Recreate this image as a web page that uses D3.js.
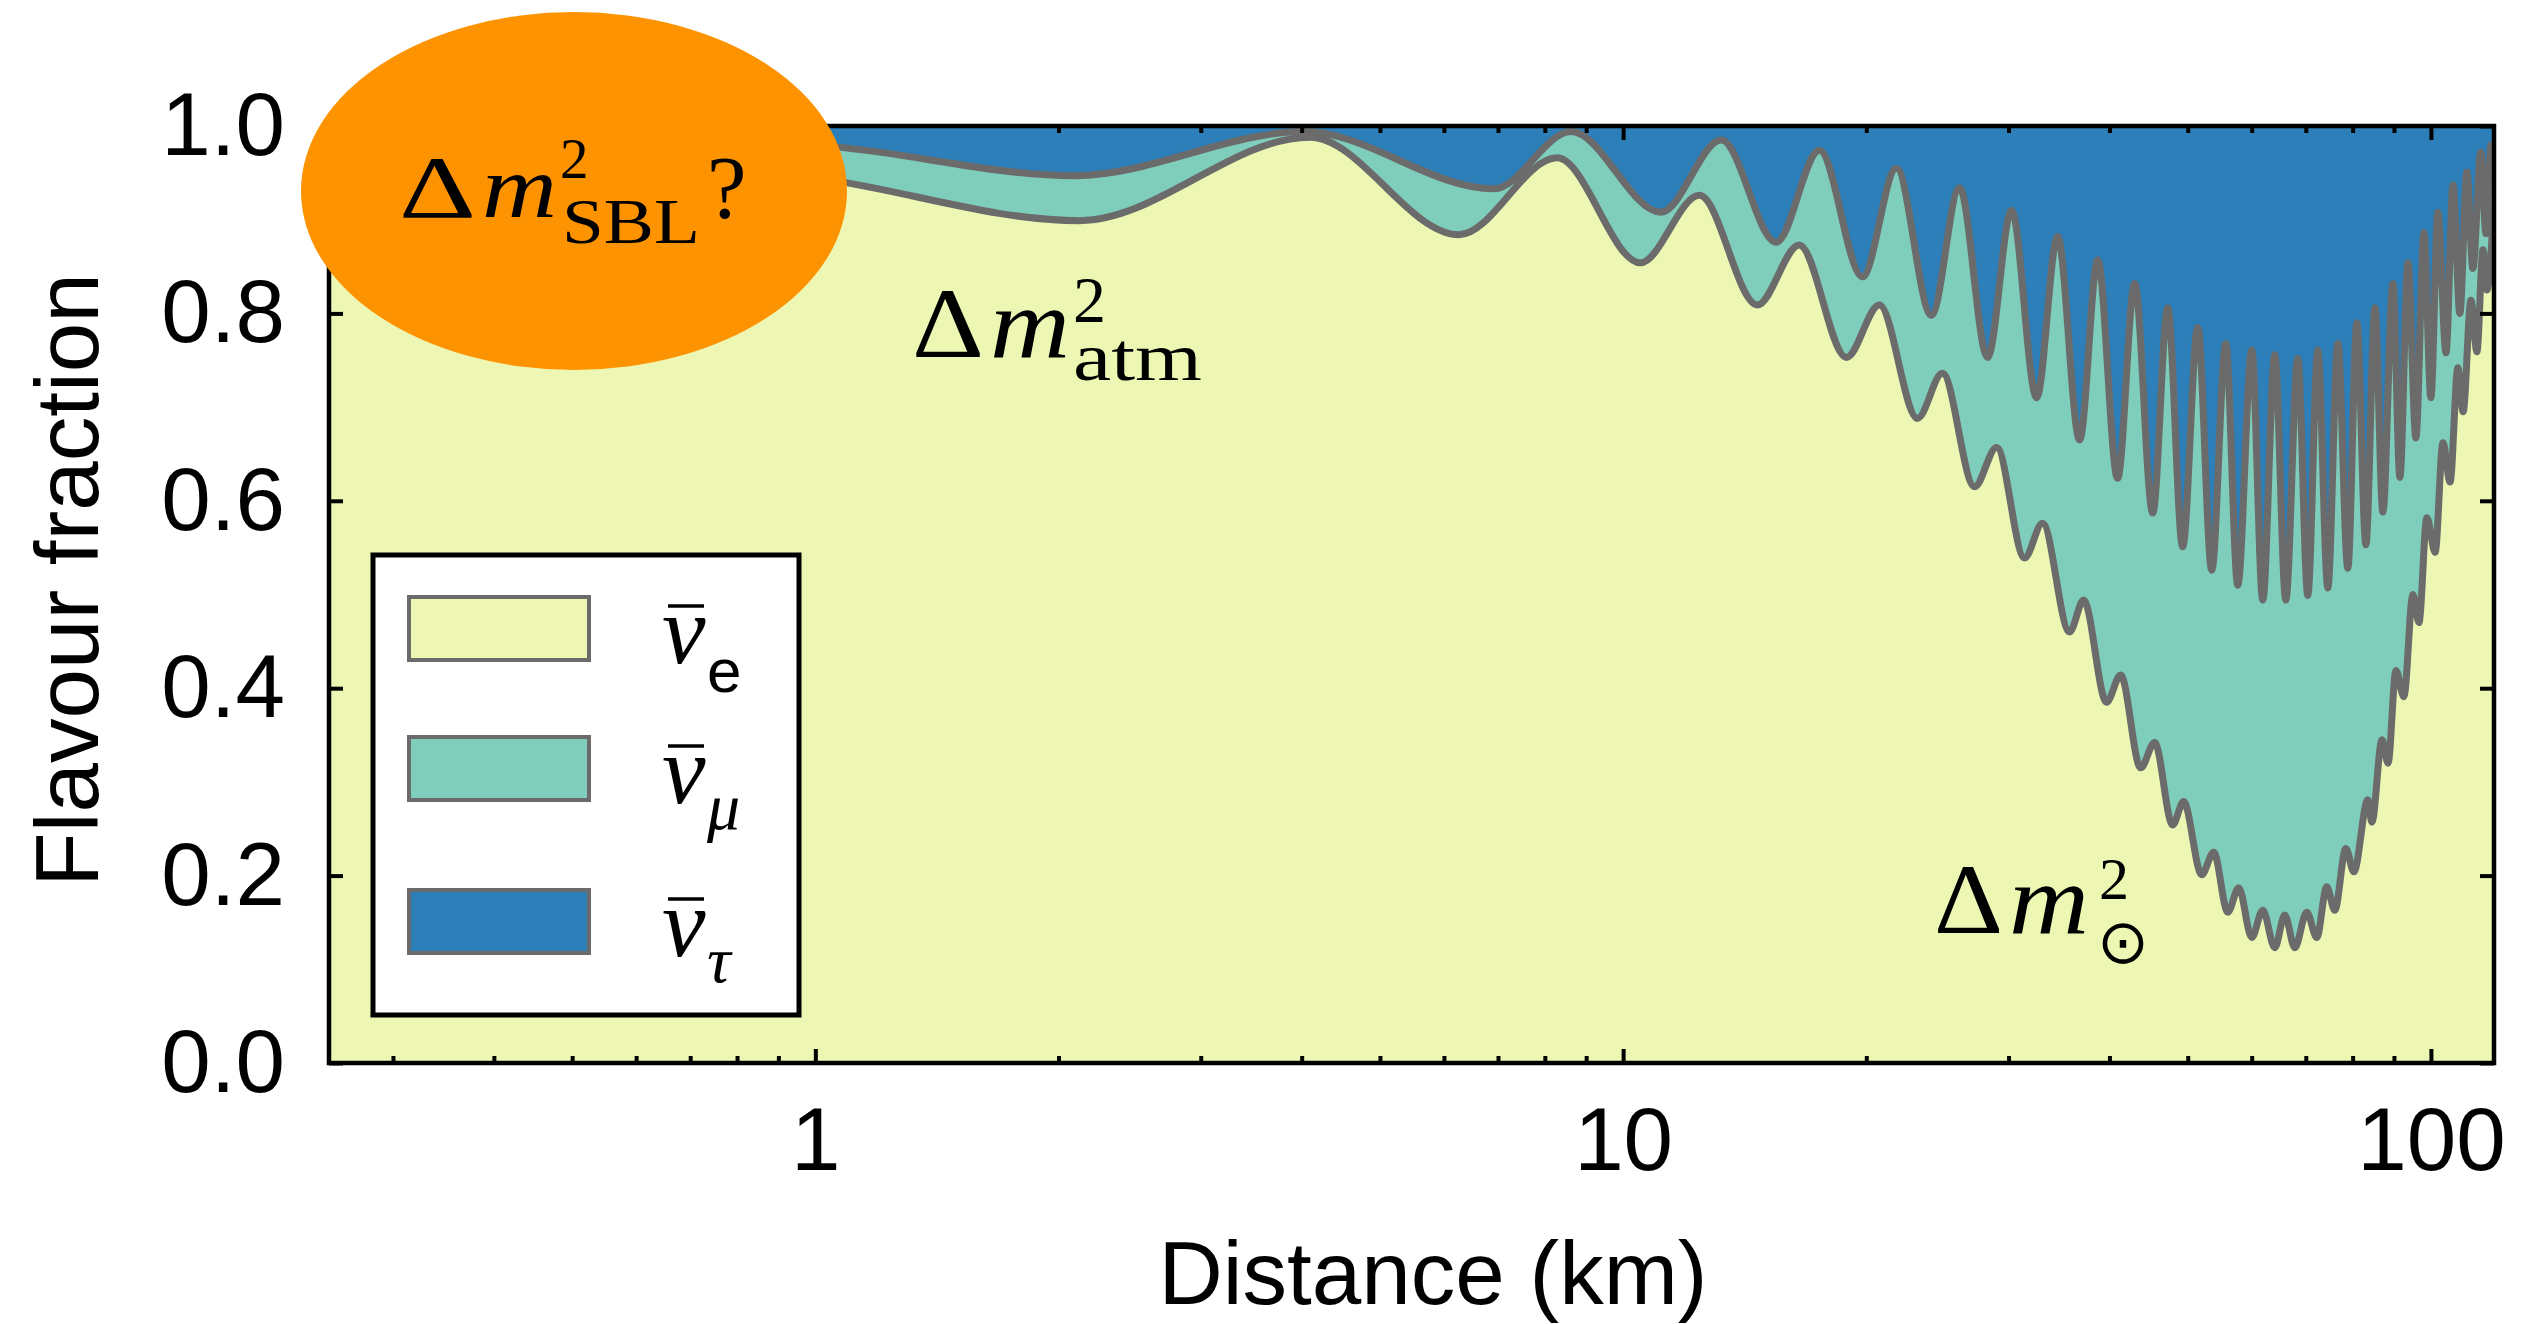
<!DOCTYPE html>
<html>
<head>
<meta charset="utf-8">
<title>Flavour fraction</title>
<script src="https://cdn.jsdelivr.net/npm/d3@7"></script>
<style>
  body { margin: 0; background: #fff; }
  svg { display: block; }
  .axis text { font-family: "Liberation Sans", Arial, sans-serif; font-size: 89px; fill: #000; }
  .axis path { display: none; }
  .axis line { stroke: #000; stroke-width: 4; }
  .title { font-family: "Liberation Sans", Arial, sans-serif; font-size: 89px; fill: #000; }
  .math { font-family: "Liberation Serif", "Times New Roman", serif; fill: #000; }
</style>
</head>
<body>
<svg id="chart" width="2544" height="1324"></svg>
<script>
// distance (km) vs cumulative fraction
// lower edge: nu_e share
const nueEdge = [
  [0.25, 0.994], [0.55, 0.978], [1.05, 0.942], [2.124, 0.899], [4.095, 0.988],
  [6.263, 0.884], [8.285, 0.966], [10.50, 0.854], [12.43, 0.926], [14.66, 0.809],
  [16.52, 0.873], [18.90, 0.753], [20.76, 0.809], [23.14, 0.688], [24.85, 0.736],
  [27.23, 0.615], [29.00, 0.657], [31.40, 0.539], [33.05, 0.576], [35.70, 0.460],
  [37.16, 0.494], [39.67, 0.385], [41.30, 0.414], [43.72, 0.315], [45.50, 0.342],
  [47.89, 0.254], [49.41, 0.279], [52.03, 0.201], [53.84, 0.225], [56.04, 0.161],
  [57.82, 0.187], [60.01, 0.134], [61.92, 0.163], [64.08, 0.123], [65.93, 0.158],
  [67.84, 0.123], [70.19, 0.161], [72.23, 0.134], [74.31, 0.188], [76.03, 0.163],
  [78.47, 0.229], [80.28, 0.204], [83.55, 0.281], [84.51, 0.257], [86.99, 0.345],
  [88.49, 0.320], [90.51, 0.419], [92.57, 0.391], [95.00, 0.500], [96.63, 0.470],
  [98.86, 0.582], [101.2, 0.545], [103.5, 0.662], [105.6, 0.620], [108.0, 0.742],
  [109.6, 0.695], [112.1, 0.814], [114.0, 0.759], [116.0, 0.868], [117.3, 0.825],
  [119.7, 0.920]
];
// upper edge: nu_e + nu_mu share
const nueNumuEdge = [
  [0.25, 0.997], [0.55, 0.990], [1.05, 0.978], [2.094, 0.947], [4.025, 0.994],
  [6.921, 0.933], [8.622, 0.994], [11.14, 0.908], [13.23, 0.985], [15.47, 0.876],
  [17.50, 0.974], [19.78, 0.839], [21.79, 0.955], [24.08, 0.798], [26.09, 0.934],
  [28.26, 0.753], [30.26, 0.910], [32.50, 0.710], [34.50, 0.882], [36.74, 0.665],
  [38.68, 0.857], [40.94, 0.624], [42.98, 0.832], [45.25, 0.587], [47.22, 0.806],
  [49.28, 0.551], [51.44, 0.785], [53.54, 0.526], [55.72, 0.768], [57.66, 0.510],
  [60.01, 0.761], [61.92, 0.494], [64.08, 0.756], [66.12, 0.494], [68.42, 0.752],
  [70.40, 0.499], [72.44, 0.761], [74.54, 0.507], [76.70, 0.768], [78.91, 0.528],
  [80.97, 0.790], [83.08, 0.553], [85.24, 0.806], [87.20, 0.588], [89.73, 0.832],
  [91.54, 0.625], [93.66, 0.854], [95.81, 0.667], [98.02, 0.886], [100.0, 0.710],
  [102.0, 0.908], [104.4, 0.758], [106.5, 0.937], [108.6, 0.800], [110.8, 0.951],
  [112.7, 0.848], [115.3, 0.972], [117.0, 0.885], [118.7, 0.980], [119.7, 0.950]
];
const xDomain = [0.25, 119.7];
const xMajor = [1, 10, 100];
const xMinor = [0.3, 0.4, 0.5, 0.6, 0.7, 0.8, 0.9, 2, 3, 4, 5, 6, 7, 8, 9,
                20, 30, 40, 50, 60, 70, 80, 90];
const yTicks = [0, 0.2, 0.4, 0.6, 0.8, 1.0];
const flavours = ["e", "μ", "τ"];
const colours = ["#edf7b3", "#7fcdbb", "#2c7fb8"];
const edgeColour = "#6b6b6b";

const margin = {top: 126, left: 329};
const width = 2494 - 329, height = 1063 - 126;

const svg = d3.select("#chart");
const g = svg.append("g").attr("transform", `translate(${margin.left},${margin.top})`);

const x = d3.scaleLog().domain(xDomain).range([0, width]);
const y = d3.scaleLinear().domain([0, 1]).range([height, 0]);

g.append("clipPath").attr("id", "plotclip")
  .append("rect").attr("width", width).attr("height", height);

const plot = g.append("g").attr("clip-path", "url(#plotclip)");

// tau share is whatever is left above the upper edge
plot.append("rect").attr("width", width).attr("height", height).attr("fill", colours[2]);

const area = d3.area().x(d => x(d[0])).y0(height).y1(d => y(d[1])).curve(d3.curveMonotoneX);
const line = d3.line().x(d => x(d[0])).y(d => y(d[1])).curve(d3.curveMonotoneX);

plot.append("path").datum(nueNumuEdge).attr("d", area).attr("fill", colours[1]);
plot.append("path").datum(nueEdge).attr("d", area).attr("fill", colours[0]);

[nueNumuEdge, nueEdge].forEach(d => {
  plot.append("path").datum(d).attr("d", line)
    .attr("fill", "none").attr("stroke", edgeColour).attr("stroke-width", 7)
    .attr("stroke-linejoin", "round");
});

// axes, ticks pointing inwards on all four sides
g.append("g").attr("class", "axis").attr("transform", `translate(0,${height})`)
  .call(d3.axisBottom(x).tickValues(xMajor).tickFormat(d3.format("d"))
    .tickSizeInner(-14).tickSizeOuter(0).tickPadding(44));
g.append("g").attr("class", "axis").attr("transform", `translate(0,${height})`)
  .call(d3.axisBottom(x).tickValues(xMinor).tickFormat("").tickSizeInner(-7).tickSizeOuter(0));
g.append("g").attr("class", "axis")
  .call(d3.axisTop(x).tickValues(xMajor).tickFormat("").tickSizeInner(-14).tickSizeOuter(0));
g.append("g").attr("class", "axis")
  .call(d3.axisTop(x).tickValues(xMinor).tickFormat("").tickSizeInner(-7).tickSizeOuter(0));
g.append("g").attr("class", "axis")
  .call(d3.axisLeft(y).tickValues(yTicks).tickFormat(d3.format(".1f"))
    .tickSizeInner(-14).tickSizeOuter(0).tickPadding(44));
g.append("g").attr("class", "axis").attr("transform", `translate(${width},0)`)
  .call(d3.axisRight(y).tickValues(yTicks).tickFormat("").tickSizeInner(-14).tickSizeOuter(0));

g.append("rect").attr("width", width).attr("height", height)
  .attr("fill", "none").attr("stroke", "#000").attr("stroke-width", 4.5);

svg.append("text").attr("class", "title")
  .attr("x", 1433).attr("y", 1304).attr("text-anchor", "middle")
  .text("Distance (km)");
svg.append("text").attr("class", "title")
  .attr("transform", "translate(98,580) rotate(-90)").attr("text-anchor", "middle")
  .text("Flavour fraction");

// legend
const legend = svg.append("g");
legend.append("rect").attr("x", 373).attr("y", 555).attr("width", 426).attr("height", 460)
  .attr("fill", "#fff").attr("stroke", "#000").attr("stroke-width", 5);
const rowTop = [597, 737, 890];
flavours.forEach((f, i) => {
  const top = rowTop[i];
  legend.append("rect").attr("x", 409).attr("y", top).attr("width", 180).attr("height", 63)
    .attr("fill", colours[i]).attr("stroke", edgeColour).attr("stroke-width", 4);
  const base = top + 66;
  const t = legend.append("text").attr("class", "math").attr("x", 662).attr("y", base);
  t.append("tspan").attr("font-size", 98).attr("font-style", "italic").text("ν");
  const sub = t.append("tspan").attr("x", 707).attr("y", base + (i === 0 ? 29 : 26))
    .attr("font-size", i === 0 ? 62 : 66)
    .attr("font-style", i === 0 ? "normal" : "italic")
    .text(f);
  if (i === 0) sub.style("font-family", "'Liberation Sans', Arial, sans-serif");
  legend.append("line").attr("x1", 668).attr("x2", 704)
    .attr("y1", base - 57).attr("y2", base - 57).attr("stroke", "#000").attr("stroke-width", 3.5);
});

// annotations: one text element per label, pieces placed as tspans
function mathText(pieces) {
  const t = svg.append("text").attr("class", "math");
  pieces.forEach(p => {
    const s = t.append("tspan").attr("x", p.x).attr("y", p.y).attr("font-size", p.size)
      .attr("font-style", p.italic ? "italic" : "normal").text(p.t);
    if (p.w) s.attr("textLength", p.w).attr("lengthAdjust", "spacingAndGlyphs");
    if (p.font) s.style("font-family", p.font);
  });
}

mathText([
  {t: "Δ", x: 912, y: 357, size: 100, w: 72},
  {t: "m", x: 990, y: 357, size: 100, italic: true, w: 80},
  {t: "2", x: 1073, y: 322, size: 66},
  {t: "atm", x: 1073, y: 380, size: 68, w: 129}
]);

mathText([
  {t: "Δ", x: 1934, y: 933, size: 100, w: 69},
  {t: "m", x: 2009, y: 933, size: 100, italic: true, w: 80},
  {t: "2", x: 2099, y: 899, size: 60},
  {t: "⊙", x: 2097, y: 963, size: 62, font: "DejaVu Sans"}
]);

svg.append("ellipse").attr("cx", 574).attr("cy", 191).attr("rx", 273).attr("ry", 179)
  .attr("fill", "#fd9300");
mathText([
  {t: "Δ", x: 399, y: 217, size: 89, w: 77},
  {t: "m", x: 482, y: 217, size: 89, italic: true, w: 75},
  {t: "2", x: 560, y: 178, size: 57},
  {t: "SBL", x: 562, y: 243, size: 63, w: 138},
  {t: "?", x: 707, y: 217, size: 89}
]);
</script>
</body>
</html>
